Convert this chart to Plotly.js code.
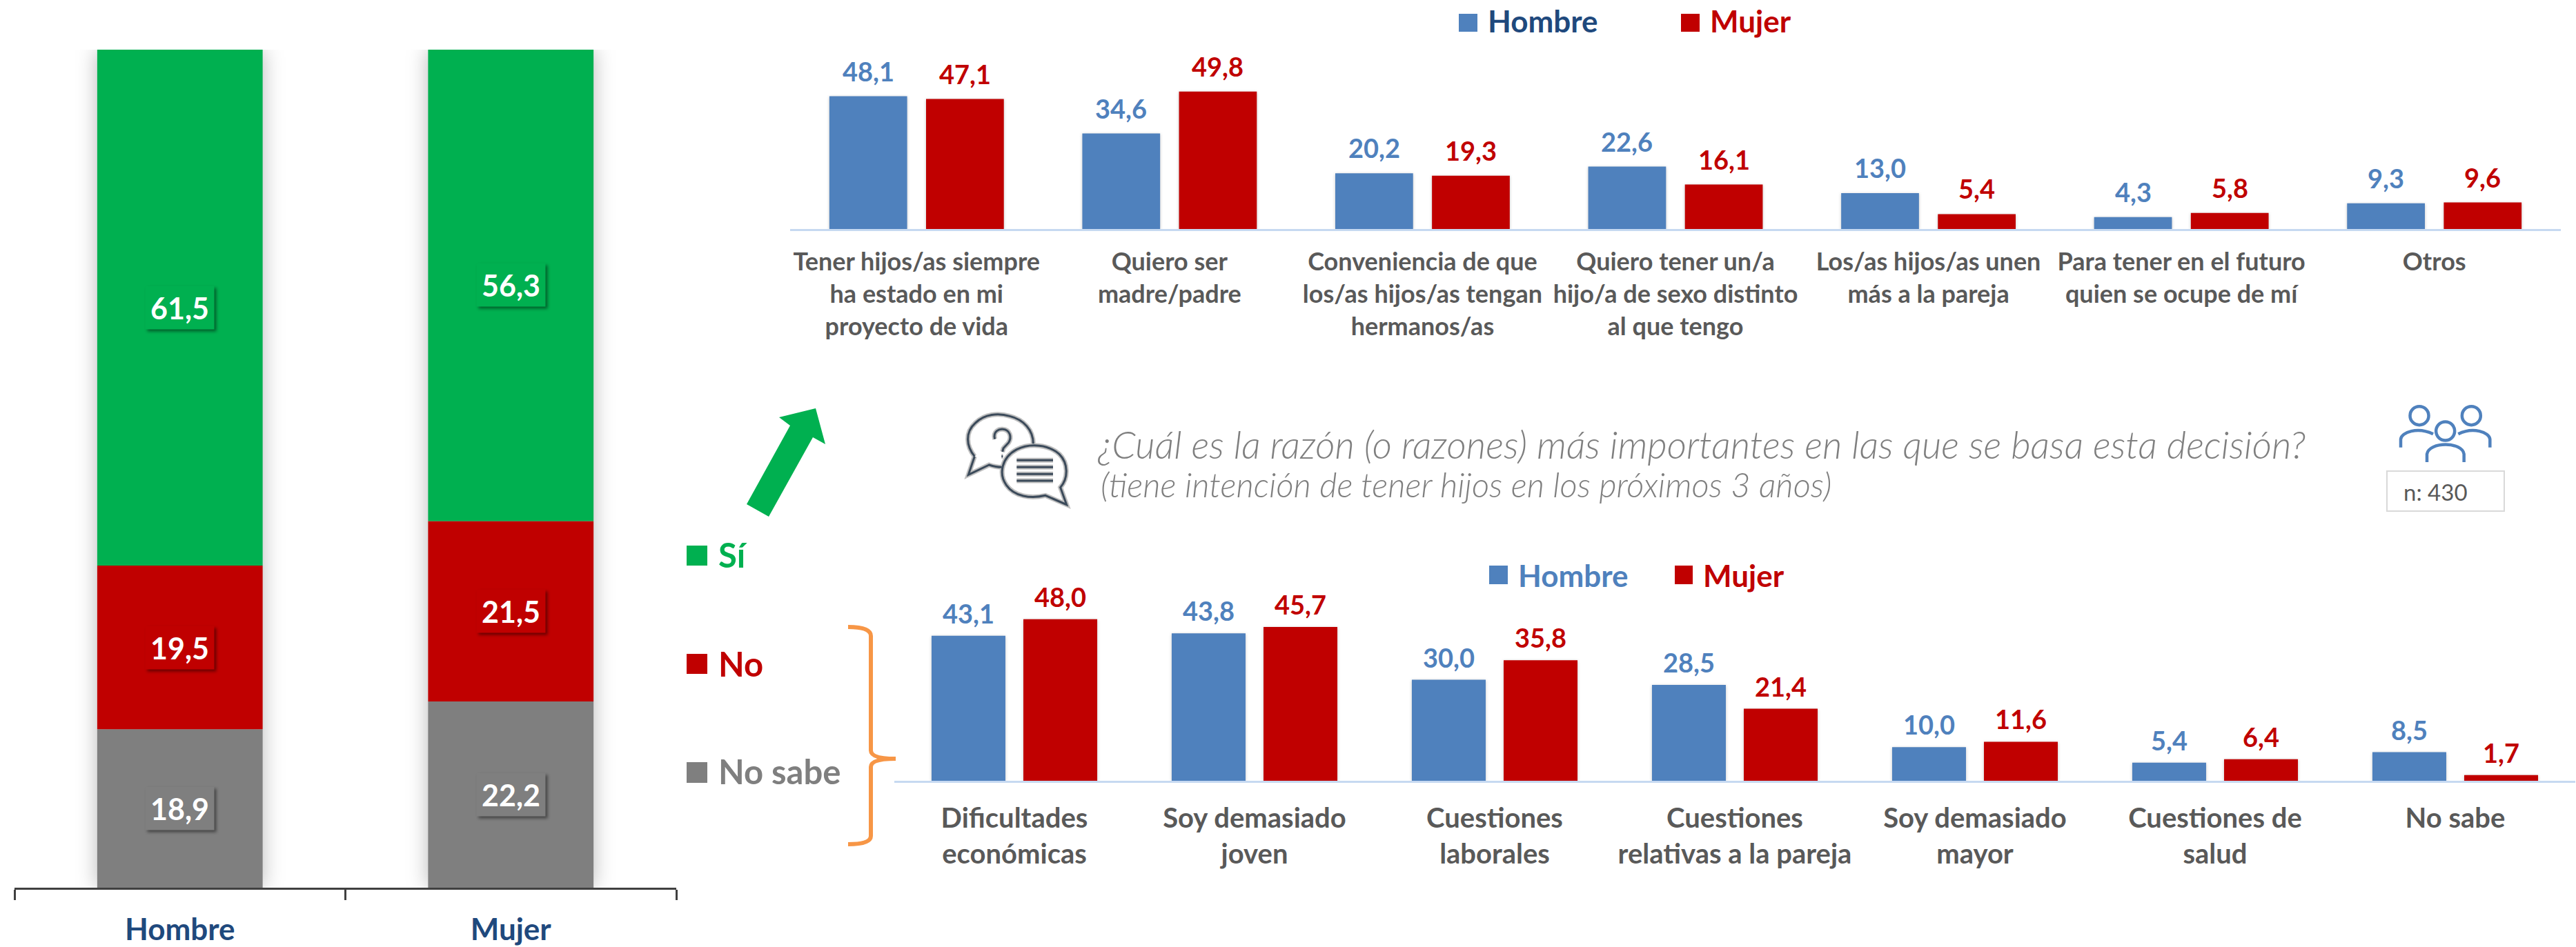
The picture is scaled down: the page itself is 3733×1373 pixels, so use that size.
<!DOCTYPE html>
<html><head><meta charset="utf-8">
<script src="https://cdn.plot.ly/plotly-3.0.1.min.js"></script>
<style>
html,body{margin:0;padding:0;background:#fff}
.barlayer{filter:drop-shadow(0 1px 2px rgba(0,0,0,.22))}
.xy .barlayer{filter:drop-shadow(0 0 15px rgba(0,0,0,.28))}
.annotation .bg{filter:drop-shadow(3px 3px 2px rgba(0,0,0,.45))}
</style></head><body><div id="chart"></div>
<script>
const W=3733,H=1373;
const stackCats=['Hombre','Mujer'];
const siVals=[61.5,56.3];
const noVals=[19.5,21.5];
const nsVals=[18.9,22.2];
const topCats=['Tener hijos/as siempre<br>ha estado en mi<br>proyecto de vida','Quiero ser<br>madre/padre','Conveniencia de que<br>los/as hijos/as tengan<br>hermanos/as','Quiero tener un/a<br>hijo/a de sexo distinto<br>al que tengo','Los/as hijos/as unen<br>más a la pareja','Para tener en el futuro<br>quien se ocupe de mí','Otros'];
const topHombre=[48.1,34.6,20.2,22.6,13.0,4.3,9.3];
const topMujer=[47.1,49.8,19.3,16.1,5.4,5.8,9.6];
const botCats=['Dificultades<br>económicas','Soy demasiado<br>joven','Cuestiones<br>laborales','Cuestiones<br>relativas a la pareja','Soy demasiado<br>mayor','Cuestiones de<br>salud','No sabe'];
const botHombre=[43.1,43.8,30.0,28.5,10.0,5.4,8.5];
const botMujer=[48.0,45.7,35.8,21.4,11.6,6.4,1.7];

const GREEN='#00b050',RED='#c00000',GREY='#7f7f7f',BLUE='#4f81bd',NAVY='#1f497d',TXT='#595959';
const F='Lato, Carlito, Calibri, sans-serif';
const fmt=v=>v.toFixed(1).replace('.',',');
const px=x=>x/W, py=y=>1-y/H;

const BW=0.3075,GAP=0.0374;
function bar(name,x,y,base,color,xa,ya,width,offset){
  const t={type:'bar',name,x,y,xaxis:xa,yaxis:ya,marker:{color,line:{width:0}},width,hoverinfo:'skip',showlegend:false};
  if(base)t.base=base;
  if(offset!==undefined)t.offset=offset;
  return t;
}
const nsBase=[0,0];
const noBase=nsVals.slice();
const siBase=nsVals.map((v,i)=>v+noVals[i]);
const data=[
  bar('No sabe',stackCats,nsVals,nsBase,GREY,'x','y',0.5),
  bar('No',stackCats,noVals,noBase,RED,'x','y',0.5),
  bar('Sí',stackCats,siVals,siBase,GREEN,'x','y',0.5),
  bar('Hombre',topCats,topHombre,null,BLUE,'x2','y2',BW,-(BW+GAP)),
  bar('Mujer',topCats,topMujer,null,RED,'x2','y2',BW,GAP),
  bar('Hombre',botCats,botHombre,null,BLUE,'x3','y3',BW,-(BW+GAP)),
  bar('Mujer',botCats,botMujer,null,RED,'x3','y3',BW,GAP)
];

const ann=[];
function stackLabel(vals,bases,bg){
  vals.forEach((v,i)=>ann.push({xref:'x',yref:'y',x:i,y:bases[i]+v/2,text:fmt(v),showarrow:false,
    font:{family:F,size:43,color:'#fff',weight:700},bgcolor:bg,width:99,height:62,align:'center',valign:'middle',borderpad:0}));
}
stackLabel(siVals,siBase,GREEN);stackLabel(noVals,noBase,RED);stackLabel(nsVals,nsBase,GREY);
function dataLabels(vals,xr,yr,color,shift,size,ys){
  vals.forEach((v,i)=>ann.push({xref:xr,yref:yr,x:i+shift,y:v,text:fmt(v),showarrow:false,yanchor:'bottom',yshift:ys,
    font:{family:F,size,color,weight:700}}));
}
const off=(BW/2+GAP);
dataLabels(topHombre,'x2','y2',BLUE,-off,38,12);
dataLabels(topMujer,'x2','y2',RED,off,38,12);
dataLabels(botHombre,'x3','y3',BLUE,-off,38,8);
dataLabels(botMujer,'x3','y3',RED,off,38,8);
function paperText(text,x,y,size,color,opt){
  ann.push(Object.assign({xref:'paper',yref:'paper',x:px(x),y:py(y),xanchor:'left',yanchor:'middle',text,showarrow:false,
    font:{family:F,size,color,weight:700}},opt||{}));
}
paperText('Hombre',2154,30,44,NAVY);
paperText('Mujer',2476,30,44,RED);
paperText('Hombre',2198,834,44,BLUE);
paperText('Mujer',2466,834,44,RED);
paperText('Sí',1039,804,49,GREEN);
paperText('No',1039,962,49,RED);
paperText('No sabe',1039,1118,49,GREY);
paperText('¿Cuál es la razón (o razones) más importantes en las que se basa esta decisión?',1589,644,55,GREY,{font:{family:F,size:55,color:GREY,style:'italic',weight:300}});
paperText('(tiene intención de tener hijos en los próximos 3 años)',1593,702,49,GREY,{font:{family:F,size:49,color:GREY,style:'italic',weight:300}});
paperText('n: 430',3481,713,33,'#595959',{font:{family:F,size:33,color:'#595959'}});

function rect(x0,y0,x1,y1,color){return {type:'rect',xref:'paper',yref:'paper',x0:px(x0),x1:px(x1),y0:py(y0),y1:py(y1),fillcolor:color,line:{width:0}};}
function pth(points,opt){
  const d=points.map(p=>typeof p==='string'?p:(px(p[0])+','+py(p[1]))).join(' ');
  return Object.assign({type:'path',xref:'paper',yref:'paper',path:d},opt);
}
function icon(ox,oy,cmds){return cmds.map(c=>typeof c==='string'?c:[ox+c[0]/3,oy+c[1]/3]);}
const NONE='rgba(0,0,0,0)';
const bubble=[
  ['M',[97,215],'C',[60,170],[55,110],[100,70],'C',[140,30],[200,25],[250,40],'C',[310,55],[352,100],[352,160]],
  ['M',[97,215],'L',[70,295],'L',[160,252],'Q',[190,262],[215,262]],
  ['M',[405,385],'C',[340,400],[270,390],[235,340],'C',[200,290],[215,220],[280,185],'C',[340,155],[420,165],[465,205],'C',[505,245],[505,310],[470,350],'L',[497,425],'Z'],
  ['M',[185,140],'C',[175,105],[205,95],[220,97],'C',[250,100],[260,130],[245,155],'L',[222,180],'L',[218,195]],
  ['M',[214,215],'L',[220,215]],
  ['M',[280,232],'L',[438,232]],['M',[280,262],'L',[438,262]],['M',[280,292],'L',[438,292]],['M',[280,321],'L',[438,321]]
];
const bubbleShapes=[];
bubble.forEach(b=>bubbleShapes.push(pth(icon(1380,590,b),{line:{color:'#bfbfbf',width:7},fillcolor:NONE})));
bubble.forEach(b=>bubbleShapes.push(pth(icon(1380,590,b),{line:{color:'#3b4a5a',width:3},fillcolor:NONE})));
const people=[
  ['M',[117,236],'L',[117,200],'C',[120,170],[190,145],[258,178]],
  ['M',[505,236],'L',[505,200],'C',[502,170],[432,145],[367,178]],
  ['M',[231,300],'L',[231,265],'C',[240,210],[385,210],[392,265],'L',[392,300]]
];
const peopleShapes=people.map(b=>pth(icon(3440,570,b),{line:{color:BLUE,width:4.5},fillcolor:NONE}));
[[198,98],[424,98],[311,165]].forEach(c=>{
  const cx=3440+c[0]/3,cy=570+c[1]/3,r=13.5;
  peopleShapes.push({type:'circle',xref:'paper',yref:'paper',x0:px(cx-r),x1:px(cx+r),y0:py(cy+r),y1:py(cy-r),line:{color:BLUE,width:4.5},fillcolor:NONE});
});
const nBox=rect(3459,683,3629,741,NONE);nBox.line={color:'#d9d9d9',width:2};
const shapes=[
  rect(2114,20,2141,46,BLUE),rect(2436,20,2463,46,RED),
  rect(2158,820,2185,847,BLUE),rect(2427,820,2453,847,RED),
  rect(995,791,1025,820,GREEN),rect(995,948,1025,977,RED),rect(995,1105,1025,1135,GREY),
  pth(['M',[1182,592],'L',[1129,605],'L',[1145,617],'L',[1082,731],'L',[1114,749],'L',[1178,634],'L',[1196,644],'Z'],{fillcolor:GREEN,line:{width:0}}),
  pth(['M',[1229,909],'Q',[1262,909],[1262,922],'L',[1262,1088],'Q',[1262,1100],[1298,1100],'Q',[1262,1100],[1262,1112],'L',[1262,1212],'Q',[1262,1224],[1229,1224]],{line:{color:'#f79646',width:6},fillcolor:NONE}),
  nBox
].concat(bubbleShapes,peopleShapes);

const axBase={type:'category',showgrid:false,zeroline:false,tickangle:0,fixedrange:true};
const yBase={showgrid:false,zeroline:false,showticklabels:false,ticks:'',showline:false,fixedrange:true};
const layout={
  width:W,height:H,margin:{l:0,r:0,t:0,b:0,pad:0},paper_bgcolor:'#fff',plot_bgcolor:'rgba(0,0,0,0)',
  barmode:'overlay',showlegend:false,
  xaxis:Object.assign({},axBase,{domain:[21/W,980/W],anchor:'y',range:[-0.5,1.5],showline:true,linecolor:'#404040',linewidth:3,ticks:'outside',tickson:'boundaries',ticklen:15,tickwidth:3,tickcolor:'#404040',ticklabelstandoff:20,
    tickfont:{family:F,size:44,color:NAVY,weight:700}}),
  yaxis:Object.assign({},yBase,{domain:[1-1287/H,1-72/H],anchor:'x',range:[0,99.9]}),
  xaxis2:Object.assign({},axBase,{domain:[1145/W,3711/W],anchor:'y2',range:[-0.5,6.5],showline:true,linecolor:'#c6d9f1',linewidth:3,ticks:'outside',ticklen:14,tickcolor:NONE,
    tickfont:{family:F,size:36,color:TXT,weight:700}}),
  yaxis2:Object.assign({},yBase,{domain:[1-332/H,1-112/H],anchor:'x2',range:[0,55]}),
  xaxis3:Object.assign({},axBase,{domain:[1296/W,3732/W],anchor:'y3',range:[-0.5,6.5],showline:true,linecolor:'#c6d9f1',linewidth:3,ticks:'outside',ticklen:17,tickcolor:NONE,
    tickfont:{family:F,size:40,color:TXT,weight:700}}),
  yaxis3:Object.assign({},yBase,{domain:[1-1132/H,1-888/H],anchor:'x3',range:[0,50]}),
  annotations:ann,shapes:shapes
};
Plotly.newPlot('chart',data,layout,{displayModeBar:false,staticPlot:true});
</script></body></html>
